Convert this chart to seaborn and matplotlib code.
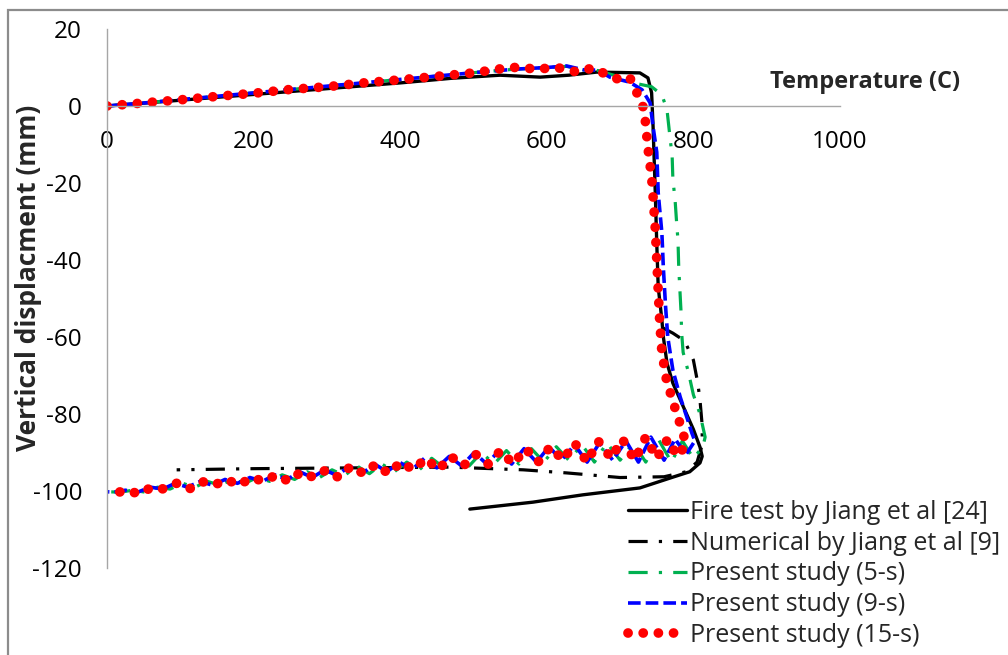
import matplotlib
matplotlib.use("Agg")
import matplotlib.pyplot as plt
import seaborn as sns
import pandas as pd
from matplotlib.patches import Rectangle

# ---------------- data (temperature C, vertical displacement mm) ----------------
fire_T = [0, 100, 200, 300, 400, 470, 536, 591, 630, 668, 700, 727, 738, 743, 745, 748, 750, 752,
          757, 759, 764, 772, 786, 800, 809, 812, 809, 795, 772, 727, 649, 581, 495]
fire_D = [0, 1.5, 3.0, 4.5, 6.0, 7.2, 8.0, 7.5, 8.0, 8.8, 8.7, 8.6, 7.3, 3.4, -5.4, -22.6, -35.6, -47,
          -55.6, -60, -66.8, -72, -78, -84, -88.6, -91, -92.7, -95, -96.4, -99.2, -101, -102.9, -104.7]

num_T = [759, 772, 788, 800, 806, 809, 812, 812, 805, 790, 760, 700, 627, 568, 468, 332, 200, 95]
num_D = [-57.7, -59, -61, -66, -72, -76.4, -83, -88, -92.5, -95, -96.3, -96.5, -95.3, -94.5, -93.8,
         -94, -94.2, -94.5]

s5_T = [0, 40, 80, 120, 160, 200, 240, 280, 320, 360, 400, 440, 480, 520, 560, 600, 627, 650, 670,
        700, 718, 743, 757, 764, 768, 771, 772, 775, 777, 779, 780, 783, 784, 786, 793, 800, 809, 816,
        813, 800, 785, 770, 752, 735, 718, 700, 682, 665, 648, 630, 613, 596, 579, 562, 545, 528, 511,
        494, 477, 460, 443, 426, 409, 392, 375, 358, 341, 324, 307, 290, 273, 256, 239, 222, 205, 188,
        171, 154, 137, 120, 103, 86, 69, 52, 35, 18, 0]
s5_D = [0, 0.6, 1.3, 2.0, 2.7, 3.4, 4.1, 4.8, 5.5, 6.2, 6.9, 7.6, 8.3, 9.0, 9.6, 10.0, 10.3, 9.4, 9.2,
        7.5, 6.0, 5.0, 2.9, -1, -8, -13, -19, -24.4, -30, -35, -42, -53, -59, -64, -69, -75, -80, -86,
        -88.5, -91.5, -87, -92.5, -86.5, -92.5, -87.5, -92, -87.5, -92.5, -88, -92, -88.5, -92.5, -89,
        -93, -89.5, -93, -90, -93.5, -91, -94, -91.5, -94.5, -92.5, -95, -93, -95.5, -93.5, -96, -94.5,
        -96.5, -95, -97, -95.8, -97.5, -96.5, -98, -97, -98.5, -97.5, -99, -98, -99.5, -99, -100.3,
        -99.8, -100.3, -100.2]

s9_T = [0, 40, 80, 120, 160, 200, 240, 280, 320, 360, 400, 440, 480, 520, 560, 600, 627, 650, 670,
        686, 713, 730, 741, 745, 750, 752, 757, 759, 762, 765, 772, 782, 791, 798, 802, 790, 775, 760,
        742, 725, 708, 690, 672, 655, 638, 620, 603, 586, 569, 552, 535, 518, 501, 484, 467, 450, 433,
        416, 399, 382, 365, 348, 331, 314, 297, 280, 263, 246, 229, 212, 195, 178, 161, 144, 127, 110,
        93, 76, 59, 42, 25, 10, 0]
s9_D = [0, 0.6, 1.3, 2.0, 2.7, 3.4, 4.1, 4.8, 5.5, 6.2, 6.9, 7.6, 8.3, 9.0, 9.6, 10.0, 10.4, 9.4, 9.3,
        7.5, 6.2, 4.2, 0.8, -5.4, -12, -22.6, -33, -42, -52, -60, -68.6, -75.6, -80.8, -85, -87, -90.5,
        -86.5, -92, -86, -92.5, -87, -92, -87.5, -92.5, -88, -92, -88.5, -92.5, -89, -93, -89.5, -93,
        -90, -93.5, -91, -94, -91.5, -94.5, -92.5, -95, -93, -95.5, -93.5, -96, -94.5, -96.5, -95, -97,
        -95.8, -97.5, -96.5, -98, -97, -98.5, -97.5, -99, -98, -99.5, -99, -100.3, -99.8, -100.3, -100.2]

s15_T = [0, 50, 100, 150, 200, 250, 300, 350, 400, 450, 500, 545, 566, 587, 607, 627, 641, 663, 682,
         697, 713, 720, 730, 734, 738, 743, 745, 748, 750, 752, 754, 757, 764, 772, 777, 784, 790, 778,
         765, 750, 735, 720, 703, 688, 670, 655, 638, 622, 605, 588, 571, 554, 537, 520, 503, 486, 469,
         452, 435, 418, 401, 384, 367, 350, 333, 316, 299, 282, 265, 248, 231, 214, 197, 180, 163, 146,
         129, 112, 95, 78, 61, 44, 27, 12, 0]
s15_D = [0, 0.8, 1.6, 2.5, 3.3, 4.3, 5.0, 6.0, 6.8, 7.7, 8.6, 9.9, 10.1, 9.4, 10.1, 9.6, 8.8, 9.9, 8.1,
         7.0, 7.5, 4.4, 1.0, -3.1, -11, -18.7, -23.6, -32, -40, -48, -56, -64, -72, -76.4, -80, -83.6,
         -88, -91, -86.5, -91.5, -86, -92, -86.5, -91.5, -87, -92.5, -87.5, -92, -88.5, -92.5, -89, -93,
         -89.5, -93, -90.5, -93.5, -91, -94.5, -91.5, -94.5, -92.5, -95.5, -93, -95.5, -93.5, -96.5,
         -94.5, -96.5, -95, -97.5, -95.8, -97.5, -96.5, -98.5, -97, -98.5, -97.5, -99.5, -98, -99.5,
         -99, -100.8, -99.8, -100.5, -100.2]

labels = ["Fire test by Jiang et al [24]", "Numerical by Jiang et al [9]",
          "Present study (5-s)", "Present study (9-s)", "Present study (15-s)"]
x_ticks = [0, 200, 400, 600, 800, 1000]
y_ticks = [-120, -100, -80, -60, -40, -20, 0, 20]

# ---------------- style ----------------
sns.set_style("white")
plt.rcParams['font.family'] = ['Open Sans', 'DejaVu Sans']
plt.rcParams['axes.unicode_minus'] = False

W, H = 1008, 655
fig = plt.figure(figsize=(W / 100, H / 100), dpi=100)
ax = fig.add_axes([107 / W, 1 - 568 / H, (840 - 107) / W, (568 - 29) / H])

series = [
    (fire_T, fire_D, dict(color="black", lw=2.4, linestyle="-")),
    (num_T, num_D, dict(color="black", lw=2.3, linestyle=(0, (6, 3.5, 1, 3.5)))),
    (s5_T, s5_D, dict(color="#00B050", lw=2.3, linestyle=(0, (6, 3.5, 1, 3.5)))),
    (s9_T, s9_D, dict(color="#0000FF", lw=2.6, linestyle=(0, (3.5, 1.4)))),
    (s15_T, s15_D, dict(color="#FF0000", lw=7.0, linestyle=(0, (0.01, 1.55)), dash_capstyle="round")),
]
for (t, d, kw), lab in zip(series, labels):
    df = pd.DataFrame({"T": t, "D": d})
    sns.lineplot(data=df, x="T", y="D", sort=False, estimator=None, ax=ax, label=lab, **kw)

handles, labs = ax.get_legend_handles_labels()
if ax.get_legend() is not None:
    ax.get_legend().remove()

ax.set_xlim(0, 1000)
ax.set_ylim(-120, 20)
ax.set_xticks(x_ticks)
ax.set_yticks(y_ticks)
ax.set_xlabel("")
ax.set_ylabel("Vertical displacment (mm)", fontsize=19, fontweight="bold")
ax.yaxis.set_label_coords(-0.088, 0.538)

for s in ["top", "right"]:
    ax.spines[s].set_visible(False)
ax.spines["bottom"].set_position(("data", 0))
for s in ["left", "bottom"]:
    ax.spines[s].set_color("#A6A6A6")
    ax.spines[s].set_linewidth(1.0)
ax.tick_params(axis="both", direction="out", length=6, width=1, color="#A6A6A6",
               labelsize=17.5, labelcolor="black")
ax.tick_params(axis="x", pad=11)
ax.tick_params(axis="y", pad=12)

fig.text(960 / W, 1 - 82 / H, "Temperature (C)", ha="right", va="center",
         fontsize=17, fontweight="bold")

fig.legend(handles, labs, loc="upper left", bbox_to_anchor=(628 / W, 1 - 500 / H),
           frameon=False, fontsize=18, handlelength=2.35, handletextpad=0.12,
           labelspacing=0.23, borderpad=0, borderaxespad=0)

fig.patches.append(Rectangle((8 / W, -0.1), 1.2, 1 - 10 / H + 0.1, transform=fig.transFigure,
                             fill=False, edgecolor="#8C8C8C", lw=1.6))

fig.savefig("out.png", dpi=100)
